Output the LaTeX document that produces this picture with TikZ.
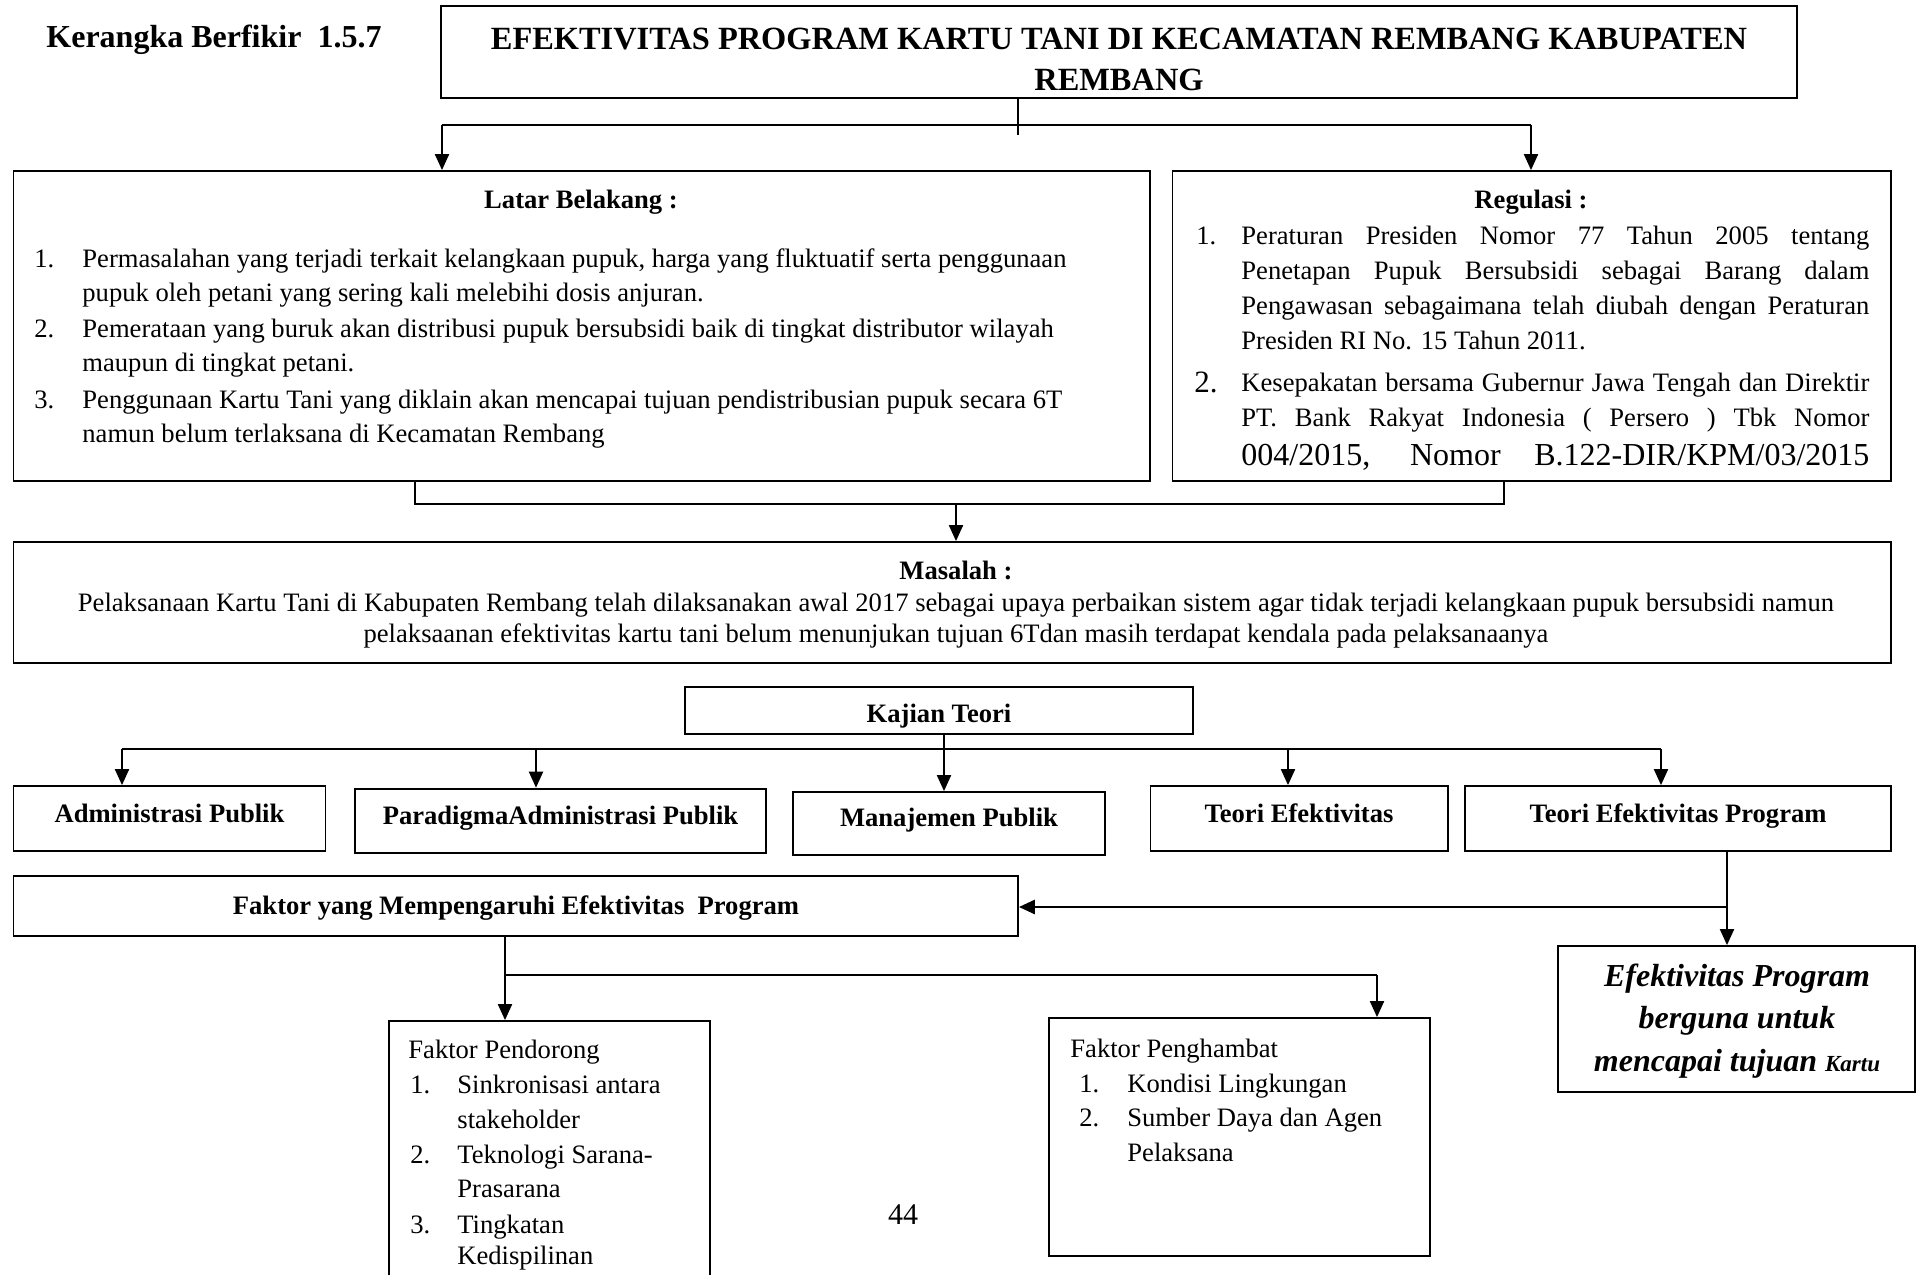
\documentclass[tikz,border=0pt]{standalone}
\usepackage{fontspec}
\setmainfont{Liberation Serif}
\usetikzlibrary{arrows.meta,fit}
\begin{document}
\begin{tikzpicture}[x=0.5pt,y=-0.5pt,
  box/.style={draw, line width=0.9pt, inner sep=0pt},
  ln/.style={line width=1pt},
  arr/.style={line width=1pt, -{Triangle[length=8pt,width=7pt]}},
  txt/.style={inner sep=0pt, anchor=base west, font=\fontsize{13.3}{15}\selectfont},
  ctxt/.style={inner sep=0pt, anchor=base, font=\fontsize{13.3}{15}\selectfont},
  bctxt/.style={inner sep=0pt, anchor=base, font=\fontsize{13.3}{15}\selectfont\bfseries},
  eftxt/.style={inner sep=0pt, anchor=base, font=\fontsize{16}{18}\selectfont\bfseries\itshape},
]
\useasboundingbox (0,0) rectangle (1919,1275);

% ---------- title ----------
\node[inner sep=0pt, anchor=base west, font=\fontsize{16}{18}\selectfont\bfseries] (kb) at (46,47) {Kerangka Berfikir\ \ 1.5.7};
\node[box, fit={(441,6) (1797,98)}] (title) {};
\node[inner sep=0pt, anchor=base, font=\fontsize{16.2}{18}\selectfont\bfseries] (tt1) at (1119,49) {EFEKTIVITAS PROGRAM KARTU TANI DI KECAMATAN REMBANG KABUPATEN};
\node[inner sep=0pt, anchor=base, font=\fontsize{16.2}{18}\selectfont\bfseries] (tt2) at (1119,90) {REMBANG};

% ---------- latar belakang ----------
\node[box, fit={(13.5,171) (1150,481)}] (lb) {};
\node[bctxt] (lbh) at (581,208) {Latar Belakang :};
\node[txt] (lbn1) at (34,267) {1.};
\node[txt] (lb1a) at (82,267) {Permasalahan yang terjadi terkait kelangkaan pupuk, harga yang fluktuatif serta penggunaan};
\node[txt] (lb1b) at (82,301) {pupuk oleh petani yang sering kali melebihi dosis anjuran.};
\node[txt] (lbn2) at (34,337) {2.};
\node[txt] (lb2a) at (82,337) {Pemerataan yang buruk akan distribusi pupuk bersubsidi baik di tingkat distributor wilayah};
\node[txt] (lb2b) at (82,371) {maupun di tingkat petani.};
\node[txt] (lbn3) at (34,408) {3.};
\node[txt] (lb3a) at (82,408) {Penggunaan Kartu Tani yang diklain akan mencapai tujuan pendistribusian pupuk secara 6T};
\node[txt] (lb3b) at (82,442) {namun belum terlaksana di Kecamatan Rembang};

% ---------- regulasi ----------
\node[box, fit={(1172.5,171) (1891,481)}] (reg) {};
\node[bctxt] (regh) at (1531,208) {Regulasi :};
\node[txt] (rn1) at (1196,244) {1.};
\node[txt] (r1a) at (1241,244) {\makebox[314pt][s]{Peraturan Presiden Nomor 77 Tahun 2005 tentang}};
\node[txt] (r1b) at (1241,279) {\makebox[314pt][s]{Penetapan Pupuk Bersubsidi sebagai Barang dalam}};
\node[txt] (r1c) at (1241,314) {\makebox[314pt][s]{Pengawasan sebagaimana telah diubah dengan Peraturan}};
\node[txt] (r1d) at (1241,349) {Presiden RI No. 15 Tahun 2011.};
\node[txt, font=\fontsize{15.5}{17}\selectfont] (rn2) at (1194,392) {2.};
\node[txt] (r2a) at (1241,391) {\makebox[314pt][s]{Kesepakatan bersama Gubernur Jawa Tengah dan Direktir}};
\node[txt] (r2b) at (1241,426) {\makebox[314pt][s]{PT. Bank Rakyat Indonesia ( Persero ) Tbk Nomor}};
\node[txt, font=\fontsize{16}{18}\selectfont] (r2c) at (1241,465) {\makebox[314pt][s]{004/2015, Nomor B.122-DIR/KPM/03/2015}};

% ---------- masalah ----------
\node[box, fit={(13.5,542) (1891,663)}] (mas) {};
\node[bctxt] (mash) at (956,579) {Masalah :};
\node[ctxt] (mas1) at (956,611) {Pelaksanaan Kartu Tani di Kabupaten Rembang telah dilaksanakan awal 2017 sebagai upaya perbaikan sistem agar tidak terjadi kelangkaan pupuk bersubsidi namun};
\node[ctxt] (mas2) at (956,642) {pelaksaanan efektivitas kartu tani belum menunjukan tujuan 6Tdan masih terdapat kendala pada pelaksanaanya};

% ---------- kajian teori ----------
\node[box, fit={(685,687) (1193,734)}] (kt) {};
\node[bctxt] (ktt) at (939,722) {Kajian Teori};

\node[box, fit={(13.5,786) (325.5,851)}] (ap) {};
\node[bctxt] (apt) at (169.5,822) {Administrasi Publik};
\node[box, line width=1.3pt, fit={(355,789) (766,853)}] (pa) {};
\node[bctxt] (pat) at (560.5,824) {ParadigmaAdministrasi Publik};
\node[box, fit={(793,792) (1105,855)}] (mp) {};
\node[bctxt] (mpt) at (949,826) {Manajemen Publik};
\node[box, fit={(1150.5,786) (1448,851)}] (te) {};
\node[bctxt] (tet) at (1299,822) {Teori Efektivitas};
\node[box, fit={(1465,786) (1891,851)}] (tep) {};
\node[bctxt] (tept) at (1678,822) {Teori Efektivitas Program};

% ---------- faktor ----------
\node[box, fit={(13.5,876) (1018,936)}] (fak) {};
\node[bctxt] (fakt) at (516,914) {Faktor yang Mempengaruhi Efektivitas\ \ Program};

\node[box, fit={(1558,946) (1915,1092)}] (ef) {};
\node[eftxt] (ef1) at (1737,986) {Efektivitas Program};
\node[eftxt] (ef2) at (1737,1028) {berguna untuk};
\node[eftxt] (ef3) at (1737,1071) {mencapai tujuan {\fontsize{11.5}{13}\selectfont Kartu}};

\node[box, fit={(389,1021) (710,1300)}] (pd) {};
\node[txt] (pdh) at (408,1058) {Faktor Pendorong};
\node[txt] (pdn1) at (410,1093) {1.};
\node[txt] (pd1a) at (457,1093) {Sinkronisasi antara};
\node[txt] (pd1b) at (457,1128) {stakeholder};
\node[txt] (pdn2) at (410,1163) {2.};
\node[txt] (pd2a) at (457,1163) {Teknologi Sarana-};
\node[txt] (pd2b) at (457,1197) {Prasarana};
\node[txt] (pdn3) at (410,1233) {3.};
\node[txt] (pd3a) at (457,1233) {Tingkatan};
\node[txt] (pd3b) at (457,1264) {Kedispilinan};

\node[box, fit={(1049,1018) (1430,1256)}] (ph) {};
\node[txt] (phh) at (1070,1057) {Faktor Penghambat};
\node[txt] (phn1) at (1079,1092) {1.};
\node[txt] (ph1a) at (1127,1092) {Kondisi Lingkungan};
\node[txt] (phn2) at (1079,1126) {2.};
\node[txt] (ph2a) at (1127,1126) {Sumber Daya dan Agen};
\node[txt] (ph2b) at (1127,1161) {Pelaksana};

\node[inner sep=0pt, anchor=base, font=\fontsize{15}{17}\selectfont] (pg) at (903,1224) {44};

% ---------- connectors ----------
\coordinate (t0) at (1018,135);
\coordinate (hL) at (442,125);
\coordinate (hR) at (1531,125);
\draw[line width=0.7pt] (title.south -| t0) -- (t0);
\draw[line width=1.4pt] (hL) -- (hR);
\draw[arr] (hL) -- (hL |- lb.north);
\draw[arr] (hR) -- (hR |- reg.north);

\coordinate (m1) at (415,504);
\coordinate (m2) at (1504,504);
\coordinate (m3) at (956,504);
\draw[ln] (lb.south -| m1) -- (m1) -- (m2) -- (reg.south -| m2);
\draw[arr] (m3) -- (m3 |- mas.north);

\coordinate (k0) at (944,749);
\coordinate (k1) at (122,749);
\coordinate (k2) at (536,749);
\coordinate (k4) at (1288,749);
\coordinate (k5) at (1661,749);
\draw[ln] (kt.south -| k0) -- (k0);
\draw[line width=1.4pt] (k1) -- (k5);
\draw[arr] (k1) -- (k1 |- ap.north);
\draw[arr] (k2) -- (k2 |- pa.north);
\draw[arr] (k0) -- (k0 |- mp.north);
\draw[arr] (k4) -- (k4 |- te.north);
\draw[arr] (k5) -- (k5 |- tep.north);

\coordinate (e0) at (1727,907);
\draw[ln] (tep.south -| e0) -- (e0);
\draw[line width=1.4pt, -{Triangle[length=8pt,width=7pt]}] (e0) -- (fak.east |- e0);
\draw[arr] (e0) -- (e0 |- ef.north);

\coordinate (f0) at (505,975);
\coordinate (f1) at (1377,975);
\draw[ln] (fak.south -| f0) -- (f0);
\draw[line width=1.4pt] (f0) -- (f1);
\draw[arr] (f0) -- (f0 |- pd.north);
\draw[arr] (f1) -- (f1 |- ph.north);
\end{tikzpicture}
\end{document}
